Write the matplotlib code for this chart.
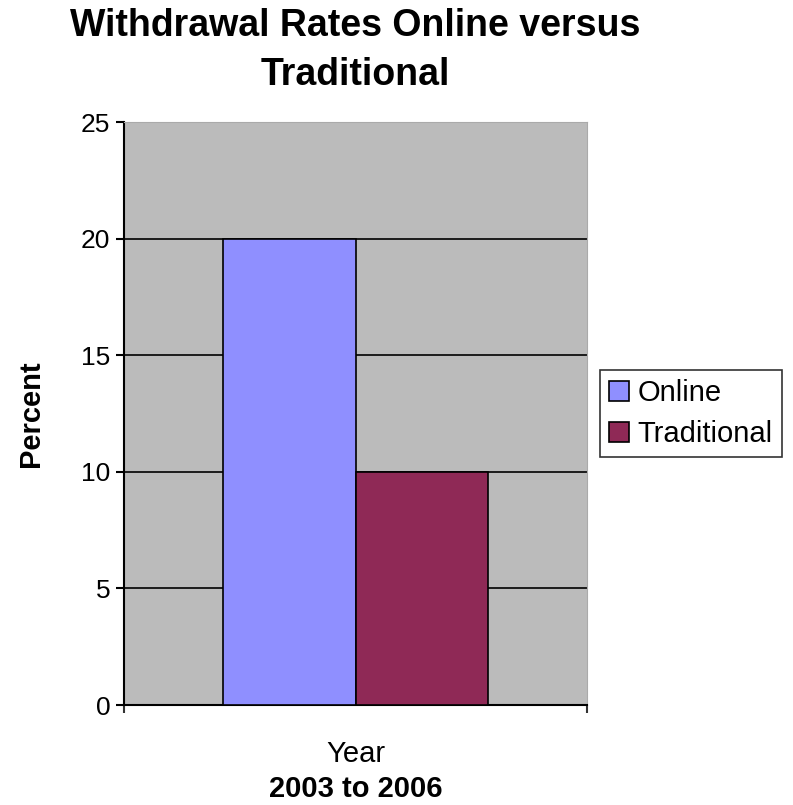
import matplotlib
matplotlib.use("Agg")
from matplotlib import pyplot as plt

# data
categories = ["Year"]
series_names = ["Online", "Traditional"]
online = [20]
traditional = [10]
colors = ["#8f8fff", "#8f2956"]
yticks = [0, 5, 10, 15, 20, 25]

plt.rcParams['font.family'] = ['Liberation Sans', 'DejaVu Sans']

fig = plt.figure(figsize=(7.93, 8.05), dpi=100)
ax = fig.add_axes([0.1564, 0.1242, 0.5838, 0.7242])
ax.set_facecolor("#bbbbbb")

w = 0.287
xs = list(range(len(categories)))
ax.bar([x - w/2 for x in xs], online, w, color=colors[0], edgecolor="black", linewidth=1.2, label=series_names[0], zorder=3)
ax.bar([x + w/2 for x in xs], traditional, w, color=colors[1], edgecolor="black", linewidth=1.2, label=series_names[1], zorder=3)

ax.set_xlim(-0.5, 0.5)
ax.set_ylim(0, 25)
ax.set_yticks(yticks)
ax.yaxis.grid(True, color="black", linewidth=1.2, zorder=1)
ax.set_axisbelow(True)
ax.set_xticks(xs)
ax.set_xticklabels(categories)
ax.set_xticks([-0.5, 0.5], minor=True)
ax.tick_params(axis="x", which="major", length=0, pad=25, labelsize=21)
ax.tick_params(axis="x", which="minor", length=6, width=1.5, color="#333333")
ax.tick_params(axis="y", length=6, width=1.5, labelsize=19, pad=4)

for s in ["top", "right"]:
    ax.spines[s].set_color("#aaaaaa")
ax.spines["left"].set_linewidth(1.5)
ax.spines["bottom"].set_linewidth(1.5)

ax.set_xlabel("2003 to 2006", fontsize=21, fontweight="bold", labelpad=5)
ax.set_ylabel("Percent", fontsize=21, fontweight="bold", labelpad=26)
fig.text(0.1564 + 0.5838 / 2, 0.99, "Withdrawal Rates Online versus\nTraditional",
         fontsize=27, fontweight="bold", ha="center", va="top", linespacing=1.45)

leg = ax.legend(loc="center left", bbox_to_anchor=(1.028, 0.5), fontsize=21, frameon=True,
                fancybox=False, edgecolor="black", handlelength=0.7, handleheight=0.7,
                handletextpad=0.3, borderpad=0.3, labelspacing=0.45, borderaxespad=0)
leg.get_frame().set_linewidth(1.2)

fig.savefig("out.png", dpi=100)
